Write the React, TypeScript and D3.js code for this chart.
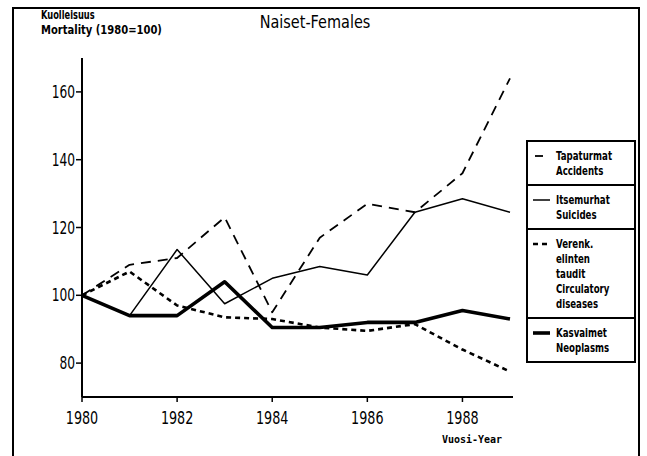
import * as d3 from 'd3';

const years = [1980, 1981, 1982, 1983, 1984, 1985, 1986, 1987, 1988, 1989];
const accidents = [100, 109, 111, 123, 95, 117, 127, 124.5, 136, 164];
const suicides = [100, 94, 113.5, 97.5, 105, 108.5, 106, 124.5, 128.5, 124.5];
const circulatory = [100, 107, 97, 93.5, 93, 90.5, 89.5, 91.5, 84, 77.5];
const neoplasms = [100, 94, 94, 104, 90.5, 90.5, 92, 92, 95.5, 93];

const yTicks = [80, 100, 120, 140, 160];
const xTicks = [1980, 1982, 1984, 1986, 1988];

const W = 647;
const H = 456;
const FONT = "'DejaVu Sans', sans-serif";

const series = [
  { key: 'acc', values: accidents, width: 1.8, dash: '10,7', labels: ['Tapaturmat', 'Accidents'] },
  { key: 'sui', values: suicides, width: 1.5, dash: '', labels: ['Itsemurhat', 'Suicides'] },
  { key: 'cir', values: circulatory, width: 2.6, dash: '5,4', labels: ['Verenk.', 'elinten', 'taudit', 'Circulatory', 'diseases'] },
  { key: 'neo', values: neoplasms, width: 3.6, dash: '', labels: ['Kasvaimet', 'Neoplasms'] },
];

// narrow text: the original uses a very condensed plotter font
const NText = ({ x, y, sx = 0.75, size, anchor = 'start', bold = false, children }: any) => (
  <text
    transform={`translate(${x},${y}) scale(${sx},1)`}
    fontSize={size}
    textAnchor={anchor}
    fontWeight={bold ? 'bold' : 'normal'}
  >
    {children}
  </text>
);

export default function App() {
  const x = d3.scaleLinear().domain([1980, 1989]).range([82, 510]);
  const y = d3.scaleLinear().domain([70, 170]).range([397, 58]);
  const line = d3
    .line<number>()
    .x((_, i) => x(years[i]))
    .y((d) => y(d));

  // legend rows
  const legX = 527;
  const legR = 635;
  let cursor = 141;
  const rows = series.map((s) => {
    const h = s.labels.length * 15 + 14;
    const r = { ...s, top: cursor, h };
    cursor += h;
    return r;
  });

  return (
    <svg
      width={W}
      height={H}
      style={{ position: 'absolute', left: 0, top: 0, background: '#fff' }}
      fontFamily={FONT}
    >
      {/* outer frame */}
      <path d={`M13,${H} V8 H639 V${H}`} fill="none" stroke="#000" strokeWidth={2} />

      <NText x={41} y={19} size={11.5} sx={0.72} bold>Kuolleisuus</NText>
      <NText x={41} y={34} size={12.5} sx={0.8} bold>Mortality (1980=100)</NText>
      <NText x={315} y={28} size={17} sx={0.85} anchor="middle">Naiset-Females</NText>

      {/* y axis */}
      <line x1={82} x2={82} y1={y(170)} y2={y(70)} stroke="#000" strokeWidth={2} />
      {yTicks.map((t) => (
        <g key={t}>
          <line x1={76} x2={82} y1={y(t)} y2={y(t)} stroke="#000" strokeWidth={1.5} />
          <NText x={75} y={y(t) + 6} size={17} sx={0.72} anchor="end">{t}</NText>
        </g>
      ))}

      {/* x axis */}
      <line x1={82} x2={513} y1={y(70)} y2={y(70)} stroke="#000" strokeWidth={2} />
      {xTicks.map((t) => (
        <g key={t}>
          <line x1={x(t)} x2={x(t)} y1={y(70)} y2={y(70) + 5} stroke="#000" strokeWidth={1.5} />
          <NText x={x(t)} y={424} size={17} sx={0.75} anchor="middle">{t}</NText>
        </g>
      ))}
      <text x={472} y={443} fontSize={10} fontWeight="bold" fontFamily="'DejaVu Sans Mono', monospace" textAnchor="middle">
        Vuosi-Year
      </text>

      {/* series */}
      {series.map((s) => (
        <path
          key={s.key}
          d={line(s.values) ?? ''}
          fill="none"
          stroke="#000"
          strokeWidth={s.width}
          strokeDasharray={s.dash || undefined}
          strokeLinejoin="round"
        />
      ))}

      {/* legend */}
      {rows.map((r) => (
        <g key={r.key}>
          <rect x={legX} y={r.top} width={legR - legX} height={r.h} fill="#fff" stroke="#000" strokeWidth={2} />
          {r.key === 'acc' && (
            <line x1={535} x2={543} y1={r.top + 15} y2={r.top + 15} stroke="#000" strokeWidth={1.8} />
          )}
          {r.key === 'sui' && (
            <line x1={533} x2={550} y1={r.top + 15} y2={r.top + 15} stroke="#000" strokeWidth={1.5} />
          )}
          {r.key === 'cir' && (
            <line x1={533} x2={549} y1={r.top + 15} y2={r.top + 15} stroke="#000" strokeWidth={2.6} strokeDasharray="5,4" />
          )}
          {r.key === 'neo' && (
            <line x1={533} x2={550} y1={r.top + 15} y2={r.top + 15} stroke="#000" strokeWidth={3.6} />
          )}
          {r.labels.map((l, i) => (
            <NText key={l} x={556} y={r.top + 19 + i * 15} size={12} sx={0.72} bold>
              {l}
            </NText>
          ))}
        </g>
      ))}
    </svg>
  );
}
